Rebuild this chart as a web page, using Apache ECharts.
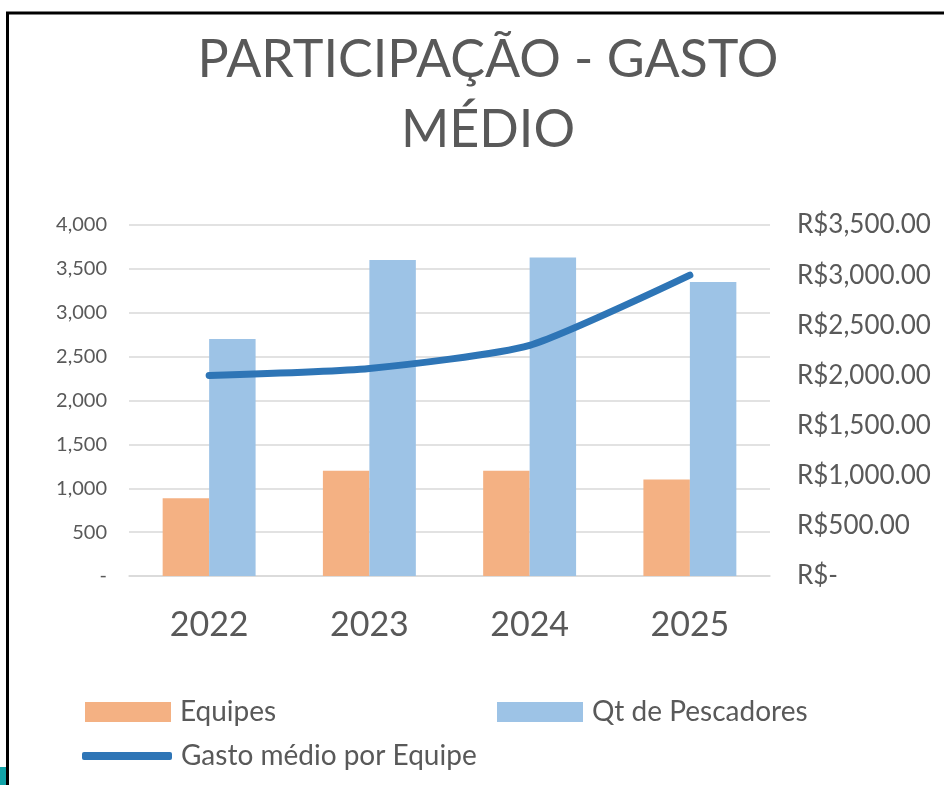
<!DOCTYPE html>
<html>
<head>
<meta charset="utf-8">
<script src="https://cdn.jsdelivr.net/npm/echarts@6/dist/echarts.min.js"></script>
<style>
  html, body { margin: 0; padding: 0; background: #fff; }
  #main { width: 944px; height: 785px; }
</style>
</head>
<body>
<div id="main"></div>
<script>
var anos = ['2022', '2023', '2024', '2025'];
var equipes = [885, 1200, 1200, 1100];
var pescadores = [2700, 3600, 3630, 3350];
var gastoMedio = [2000, 2070, 2300, 3000];

var cinza = '#595959';
var fonte = 'Lato';

function milhar(v) {
    return v.toLocaleString('en-US');
}

var myChart = echarts.init(document.getElementById('main'));
myChart.setOption({
    backgroundColor: '#fff',
    animation: false,
    textStyle: { fontFamily: fonte },
    title: {
        text: 'PARTICIPAÇÃO - GASTO\nMÉDIO',
        left: 483,
        top: 20,
        textAlign: 'center',
        textStyle: {
            fontFamily: fonte,
            fontSize: 52,
            fontWeight: 'normal',
            color: cinza,
            lineHeight: 70
        }
    },
    // legendas separadas para imitar o layout do Excel
    legend: [{
        data: ['Equipes'],
        left: 85, top: 698,
        padding: 0,
        itemWidth: 86, itemHeight: 20,
        icon: 'rect',
        textStyle: { fontSize: 28, color: cinza, fontFamily: fonte, padding: [0, 0, 0, 4] }
    }, {
        data: ['Qt de Pescadores'],
        left: 497, top: 698,
        padding: 0,
        itemWidth: 86, itemHeight: 20,
        icon: 'rect',
        textStyle: { fontSize: 28, color: cinza, fontFamily: fonte, padding: [0, 0, 0, 4] }
    }, {
        data: ['Gasto médio por Equipe'],
        left: 82, top: 742,
        padding: 0,
        itemWidth: 90, itemHeight: 8,
        icon: 'roundRect',
        textStyle: { fontSize: 28, color: cinza, fontFamily: fonte, padding: [0, 0, 0, 4] }
    }],
    grid: {
        left: 129, right: 174, top: 225, bottom: 209,
        containLabel: false,
        outerBoundsMode: 'none'
    },
    xAxis: {
        type: 'category',
        data: anos,
        axisLine: { lineStyle: { color: '#d9d9d9', width: 1.5 } },
        axisTick: { show: false },
        axisLabel: { fontSize: 34, color: cinza, margin: 32, fontFamily: fonte }
    },
    yAxis: [{
        type: 'value',
        min: 0, max: 4000, interval: 500,
        axisLine: { show: false },
        axisTick: { show: false },
        splitLine: { lineStyle: { color: '#d9d9d9', width: 1.5 } },
        axisLabel: {
            fontSize: 20, color: cinza, margin: 22, fontFamily: fonte,
            formatter: function (v) { return v === 0 ? '-' : milhar(v); }
        }
    }, {
        type: 'value',
        min: 0, max: 3500, interval: 500,
        axisLine: { show: false },
        axisTick: { show: false },
        splitLine: { show: false },
        axisLabel: {
            fontSize: 26, color: cinza, margin: 27, fontFamily: fonte,
            formatter: function (v) {
                if (v === 0) return 'R$-';
                return 'R$' + v.toLocaleString('en-US', { minimumFractionDigits: 2, maximumFractionDigits: 2 });
            }
        }
    }],
    series: [{
        name: 'Equipes',
        type: 'bar',
        data: equipes,
        barGap: '0%',
        barCategoryGap: '42%',
        itemStyle: { color: '#f4b183' }
    }, {
        name: 'Qt de Pescadores',
        type: 'bar',
        data: pescadores,
        itemStyle: { color: '#9dc3e6' }
    }, {
        name: 'Gasto médio por Equipe',
        type: 'line',
        yAxisIndex: 1,
        data: gastoMedio,
        smooth: 0.2,
        symbol: 'none',
        lineStyle: { color: '#2e75b6', width: 7, cap: 'round' },
        itemStyle: { color: '#2e75b6' }
    }],
    graphic: [{
        type: 'line',
        shape: { x1: 6, y1: 13, x2: 944, y2: 13 },
        style: { stroke: '#000', lineWidth: 3 }
    }, {
        type: 'line',
        shape: { x1: 7.5, y1: 12, x2: 7.5, y2: 785 },
        style: { stroke: '#000', lineWidth: 3 }
    }, {
        type: 'rect',
        shape: { x: 0, y: 767, width: 6, height: 18 },
        style: { fill: '#12a3a8' }
    }]
});
</script>
</body>
</html>
